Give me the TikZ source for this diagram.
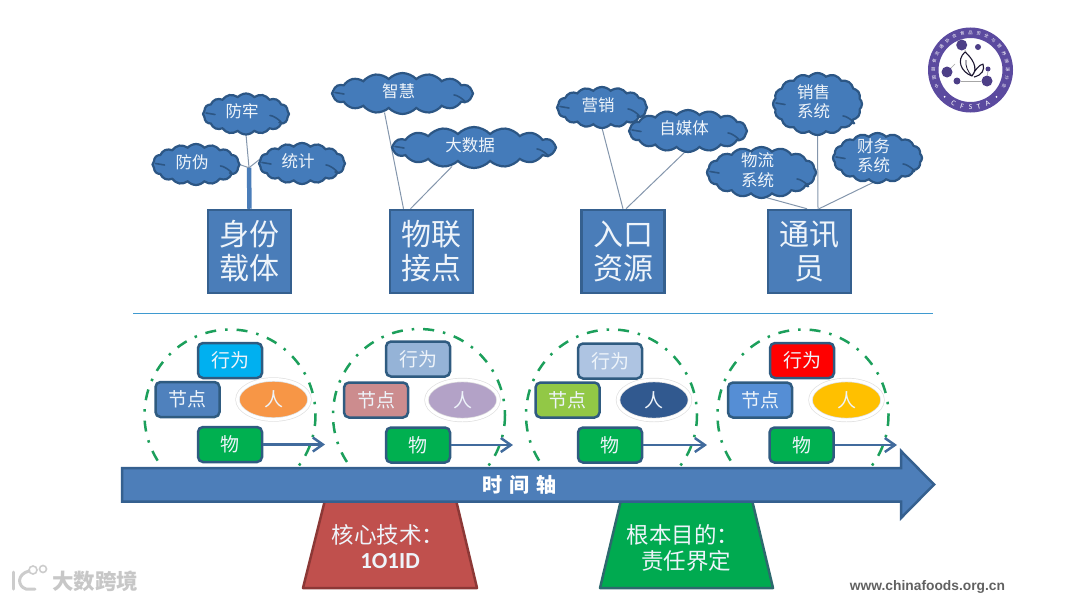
\documentclass[tikz,border=0pt]{standalone}
\usepackage{fontspec}
\setmainfont{Noto Sans CJK SC}
\newfontfamily\latinfont{Carlito}
\newfontfamily\urlfont{Liberation Sans}
\usetikzlibrary{shapes.geometric,shapes.symbols,calc,backgrounds,arrows.meta}
\definecolor{boxblue}{HTML}{4A7DB9}
\definecolor{boxedge}{HTML}{35608F}
\definecolor{cloudfill}{HTML}{447BBA}
\definecolor{cloudedge}{HTML}{2C5684}
\definecolor{softwhite}{HTML}{EEF4FA}
\definecolor{wire}{HTML}{8496AC}
\definecolor{splitline}{HTML}{3F9AD0}
\definecolor{ringgreen}{HTML}{1C9F5B}
\definecolor{smalledge}{HTML}{2F5B80}
\definecolor{logopurple}{HTML}{5B4A9F}
\definecolor{axisblue}{HTML}{4D7EB9}
\definecolor{skyfill}{HTML}{00B0F0}
\definecolor{nodeone}{HTML}{4F81BD}
\definecolor{manone}{HTML}{F79646}
\definecolor{thing}{HTML}{00B050}
\definecolor{acttwo}{HTML}{95B3D7}
\definecolor{nodetwo}{HTML}{CC8C8E}
\definecolor{mantwo}{HTML}{B3A2C7}
\definecolor{actthree}{HTML}{AEC4E2}
\definecolor{nodethree}{HTML}{92C846}
\definecolor{manthree}{HTML}{31598F}
\definecolor{actfour}{HTML}{FF0000}
\definecolor{nodefour}{HTML}{558ED5}
\definecolor{manfour}{HTML}{FFC000}
\tikzset{
  topbox/.style={draw=boxedge,line width=2.5pt,fill=boxblue,minimum width=83pt,minimum height=83pt,inner sep=0pt,text=softwhite,font=\fontsize{30}{34}\selectfont,align=center},
  cloudbox/.style={cloud,cloud puffs=16,cloud puff arc=95,cloud ignores aspect,draw=cloudedge,line width=2.2pt,fill=cloudfill,inner sep=0pt,outer sep=0pt},
  cloudlabel/.style={text=softwhite,font=\fontsize{16.5}{19.5}\selectfont,align=center,inner sep=0pt,xshift=-4pt,yshift=2.5pt},
  cloudmark/.style={draw=cloudedge,line width=1.6pt,line cap=round},
  wireline/.style={draw=wire,line width=1pt},
  smallrect/.style={rounded corners=5pt,draw=smalledge,line width=2.5pt,minimum width=64pt,minimum height=35pt,inner sep=0pt,text=softwhite,font=\fontsize{19}{22}\selectfont},
  person/.style={ellipse,draw=black!12,double=white,double distance=3pt,line width=0.7pt,minimum width=72pt,minimum height=40pt,inner sep=0pt,text=softwhite,font=\fontsize{19}{22}\selectfont},
  ringline/.style={draw=ringgreen,line width=2.5pt,dash pattern=on 11pt off 9pt on 2.5pt off 9pt},
  timearrow/.style={draw=axisblue!85!black,line width=2.5pt,-{Straight Barb[length=10pt,width=14pt,line width=2.5pt]}},
  trap/.style={line width=2.5pt,line join=round},
  traptext/.style={text=softwhite,font=\fontsize{22.5}{26}\selectfont,inner sep=0pt},
  logodot/.style={circle,fill=logopurple!85!black,inner sep=0pt},
  ringchar/.style={text=white,font=\fontsize{4.3}{5}\selectfont,inner sep=0pt},
  ringletter/.style={text=white,font=\latinfont\fontsize{7.5}{8}\selectfont,inner sep=0pt},
  markgray/.style={draw=black!20,line width=3pt,line cap=round,fill=none},
}
\newcommand{\mycloud}[6]{%
  \node[cloudbox,minimum width=#4pt,minimum height=#5pt,label={[cloudlabel]center:#6}] (#1) at (#2,#3) {};
  \draw[cloudmark] ($(#1.center)+({0.5*#4-19},{0.5*#5-19})$) .. controls +(5,0) and +(7,3) .. +(9,7);
  \draw[cloudmark] ($(#1.center)+({-0.5*#4+3},{-1})$) -- +(9,1.5);
}
\begin{document}
\begin{tikzpicture}[x=1pt,y=-1pt]
\useasboundingbox (0,0) rectangle (1067,600);

% --- upper boxes
\node[topbox] (shen) at (249.5,251.5) {身份\\载体};
\node[topbox] (wu)   at (431.5,251.5) {物联\\接点};
\node[topbox] (ru)   at (623,251.5)   {入口\\资源};
\node[topbox] (tong) at (809.5,251.5) {通讯\\员};

% --- clouds
\mycloud{fangwei}{196}{164.5}{87}{41}{防伪}
\mycloud{fanglao}{246}{114}{86}{41}{防牢}
\mycloud{tongji}{302}{163.5}{86}{41}{统计}
\mycloud{zhihui}{402.5}{93.5}{141}{41}{智慧}
\mycloud{dashuju}{474}{147.5}{164}{41}{大数据}
\mycloud{yingxiao}{602}{107.5}{90}{41}{营销}
\mycloud{zimeiti}{688}{131}{118}{42}{自媒体}
\mycloud{xiaoshou}{817.5}{104}{89}{62}{销售\\系统}
\mycloud{caiwu}{877.5}{158}{89}{50}{财务\\系统}
\mycloud{wuliu}{761.5}{172.5}{109}{51}{物流\\系统}

% --- connectors
\begin{pgfonlayer}{background}
  \coordinate (stemtop) at ($(shen.north)+(-0.5,-41)$);
  \draw[wireline] (fanglao.south) -- (stemtop);
  \draw[wireline] (fangwei.east) -- (stemtop);
  \draw[wireline] ($(tongji.center)+(-40,-6)$) -- (stemtop);
  \draw[draw=boxblue,line width=4.5pt] (stemtop) -- (shen.north);
  \draw[wireline] ($(zhihui.center)+(-18,19)$) -- ($(wu.north)+(-28,0)$);
  \draw[wireline] ($(dashuju.center)+(-22,19)$) -- ($(wu.north)+(-21,0)$);
  \draw[wireline] (yingxiao.south) -- (ru.north);
  \draw[wireline] ($(zimeiti.center)+(-2,20)$) -- ($(ru.north)+(3,0)$);
  \draw[wireline] (xiaoshou.south) -- ($(tong.north)+(8.5,0)$);
  \draw[wireline] ($(caiwu.center)+(-3.5,24)$) -- ($(tong.north)+(9.5,0)$);
  \draw[wireline] ($(wuliu.center)+(4.5,25)$) -- ($(tong.north)+(-2.5,0)$);
\end{pgfonlayer}

% --- divider
\coordinate (divl) at (133,313.5);
\coordinate (divr) at (933,313.5);
\draw[draw=splitline,line width=1.1pt] (divl) -- (divr);

% --- dash-dot rings (the axis hides their lower part)
\draw[ringline] (230,415) circle[radius=85.5];
\draw[ringline] (419,415) circle[radius=86];
\draw[ringline] (611.5,415) circle[radius=85.5];
\draw[ringline] (803,415) circle[radius=85.5];

% --- group 1
\node[smallrect,fill=skyfill] (a1) at (230,360.5) {行为};
\node[smallrect,fill=nodeone] (n1) at (187.5,399.5) {节点};
\node[person,fill=manone] (p1) at (273.5,399.5) {人};
\node[smallrect,fill=thing] (t1) at (230,444.5) {物};
\coordinate (e1) at (325,444.5);
\draw[timearrow] (t1.east) -- (e1);
% --- group 2
\node[smallrect,fill=acttwo] (a2) at (418,359) {行为};
\node[smallrect,fill=nodetwo] (n2) at (376,400) {节点};
\node[person,fill=mantwo] (p2) at (462.5,400) {人};
\node[smallrect,fill=thing] (t2) at (418,445) {物};
\coordinate (e2) at (513,445);
\draw[timearrow] (t2.east) -- (e2);
% --- group 3
\node[smallrect,fill=actthree] (a3) at (610,361) {行为};
\node[smallrect,fill=nodethree] (n3) at (567.5,400) {节点};
\node[person,fill=manthree] (p3) at (654,400) {人};
\node[smallrect,fill=thing] (t3) at (610,445) {物};
\coordinate (e3) at (707,445);
\draw[timearrow] (t3.east) -- (e3);
% --- group 4
\node[smallrect,fill=actfour] (a4) at (802,360.5) {行为};
\node[smallrect,fill=nodefour] (n4) at (760,400) {节点};
\node[person,fill=manfour] (p4) at (846.5,400) {人};
\node[smallrect,fill=thing] (t4) at (801.5,445) {物};
\coordinate (e4) at (897,445);
\draw[timearrow] (t4.east) -- (e4);

% --- trapezoids
\draw[trap,draw={rgb,255:red,140;green,56;blue,54},fill={rgb,255:red,192;green,80;blue,77}] (325,500) -- (456,500) -- (477,588) -- (303,588) -- cycle;
\draw[trap,draw={rgb,255:red,45;green,105;blue,110},fill={rgb,255:red,0;green,170;blue,80}] (621,500) -- (752,500) -- (773,588) -- (600,588) -- cycle;
\node[traptext] (hexin) at (388,535) {核心技术：};
\node[traptext,font=\latinfont\bfseries\fontsize{23}{26}\selectfont] (yid) at (390,561) {1O1ID};
\node[traptext] (genben) at (683,535) {根本目的：};
\node[traptext] (zeren) at (686,561) {责任界定};

% --- time axis
\draw[draw=boxedge,line width=2.5pt,fill=axisblue,line join=miter]
  (122,468) -- (901,468) -- (901,451) -- (934,484.5) -- (901,518) -- (901,501.5) -- (122,501.5) -- cycle;
\node[text=white,inner sep=0pt,font=\bfseries\fontsize{20}{24}\selectfont\addfontfeature{LetterSpace=35}] (axis) at (519,485) {时间轴};

% --- url
\node[text=black!62,inner sep=0pt,font=\urlfont\bfseries\fontsize{13.8}{15}\selectfont] (url) at (927.5,587) {www.chinafoods.org.cn};

% --- watermark
\node[text=black!22,inner sep=0pt,font=\bfseries\fontsize{21.5}{24}\selectfont] (wm) at (95,581) {大数跨境};
\draw[markgray] (13,572) -- (13,589);
\draw[markgray] (29,571) .. controls (17,574) and (17,586) .. (26,589) -- (35,589);
\draw[draw=black!20,line width=1.6pt] (33,570) circle[radius=4];
\draw[draw=black!20,line width=1.6pt] (43,569) circle[radius=3.5];

% --- logo
\node[circle,draw=logopurple,line width=10.5pt,minimum size=74.5pt,inner sep=0pt,fill=white] (logo) at (970.5,70) {};
\foreach \c [count=\i from 0] in {中,国,副,食,流,通,协,会,食,品,安,全,与,营,养,溯,源,分,会}{
  \pgfmathsetmacro{\ang}{205-\i*(230/18)}
  \node[ringchar,rotate=\ang-90] at ($(logo.center)+({37.3*cos(\ang)},{-37.3*sin(\ang)})$) {\c};
}
\foreach \c/\ang in {C/243,F/257,S/270,T/283,A/297}{
  \node[ringletter,rotate=\ang+90] at ($(logo.center)+({37.3*cos(\ang)},{-37.3*sin(\ang)})$) {\c};
}
\fill[white] ($(logo.center)+({37.3*cos(226)},{-37.3*sin(226)})$) circle[radius=1];
\fill[white] ($(logo.center)+({37.3*cos(314)},{-37.3*sin(314)})$) circle[radius=1];
\node[logodot,minimum size=11pt] (d1) at (961.7,45) {};
\node[logodot,minimum size=6pt] (d2) at (978,47) {};
\node[logodot,minimum size=11pt] (d3) at (947,72) {};
\node[logodot,minimum size=7pt] (d4) at (957,81) {};
\node[logodot,minimum size=11pt] (d5) at (987,81) {};
\node[logodot,minimum size=5pt] (d6) at (988,69) {};
\draw[draw=black!35,line width=1pt] (d4) -- (d5);
\draw[draw=black!35,line width=0.6pt] (d1) -- ++(5,8);
\draw[draw=black!35,line width=0.6pt] (d3) -- ++(8,-8);
\draw[draw=black!35,line width=0.6pt] (d6) -- (d5);
\draw[draw=black!70!logopurple,line width=1.1pt,line join=round]
  (972,76) .. controls (961,72) and (956,60) .. (965,52) .. controls (972,58) and (979,68) .. (972,76)
  .. controls (975,70) and (979,65) .. (983,64) .. controls (985,70) and (982,75) .. (974,77);
\draw[draw=black!70!logopurple,line width=0.8pt] (966,60) .. controls (965,66) and (968,72) .. (972,76);
\end{tikzpicture}
\end{document}
